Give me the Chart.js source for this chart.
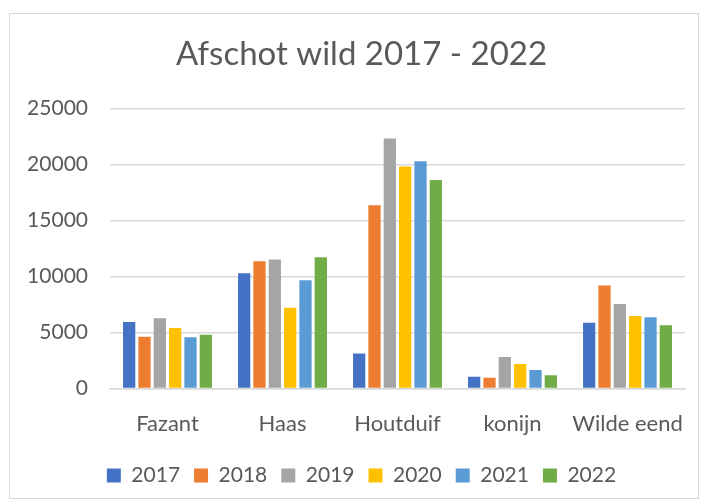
<!DOCTYPE html>
<html>
<head>
<meta charset="utf-8">
<script src="https://cdn.jsdelivr.net/npm/chart.js@4.4.0/dist/chart.umd.min.js"></script>
<style>
  body { margin: 0; background: #fff; }
  #wrap { position: relative; width: 705px; height: 502px; }
  #frame { position: absolute; left: 9px; top: 13px; width: 690px; height: 486px; border: 1px solid #d9d9d9; box-sizing: border-box; }
  canvas { position: absolute; left: 0; top: 0; }
</style>
</head>
<body>
<div id="wrap">
  <div id="frame"></div>
  <canvas id="grafiek" width="705" height="502"></canvas>
</div>
<script>
var soorten = ['Fazant', 'Haas', 'Houtduif', 'konijn', 'Wilde eend'];
var jaren = ['2017', '2018', '2019', '2020', '2021', '2022'];
var kleuren = ['#4472C4', '#ED7D31', '#A5A5A5', '#FFC000', '#5B9BD5', '#70AD47'];
// afschot per jaar, volgorde zoals soorten
var afschot2017 = [5950, 10300, 3130, 1050, 5890];
var afschot2018 = [4640, 11380, 16380, 960, 9200];
var afschot2019 = [6290, 11520, 22320, 2830, 7560];
var afschot2020 = [5420, 7210, 19820, 2200, 6490];
var afschot2021 = [4590, 9680, 20300, 1670, 6380];
var afschot2022 = [4800, 11730, 18630, 1200, 5660];
var yTicks = [0, 5000, 10000, 15000, 20000, 25000];

var reeksen = [afschot2017, afschot2018, afschot2019, afschot2020, afschot2021, afschot2022];
var datasets = [];
for (let i = 0; i < jaren.length; i++) {
    datasets.push({
        label: jaren[i],
        data: reeksen[i],
        backgroundColor: kleuren[i],
        borderWidth: 0,
        categoryPercentage: 0.8,
        barPercentage: 0.8
    });
}

// y-labels mogen buiten de smalle as-box vallen (anders worden ze afgeknipt)
var yLabelRuimte = {
    id: 'yLabelRuimte',
    afterLayout: function (chart) { chart.scales.y.left = 0; }
};

var fontFam = 'Lato, "Liberation Sans", sans-serif';
var ctx = document.getElementById('grafiek');
var grafiek = new Chart(ctx, {
    type: 'bar',
    data: { labels: soorten, datasets: datasets },
    plugins: [yLabelRuimte],
    options: {
        responsive: false,
        animation: false,
        devicePixelRatio: 1,
        layout: { padding: { left: 38, right: 20, top: 35, bottom: 6 } },
        plugins: {
            title: {
                display: true,
                text: 'Afschot wild 2017 - 2022',
                color: '#595959',
                font: { family: fontFam, size: 33, weight: 'normal' },
                padding: { top: 0, bottom: 34 }
            },
            legend: {
                position: 'bottom',
                labels: {
                    color: '#595959',
                    font: { family: fontFam, size: 21 },
                    boxWidth: 14,
                    boxHeight: 14,
                    padding: 14
                }
            },
            tooltip: { enabled: false }
        },
        scales: {
            x: {
                grid: { display: false },
                border: { display: true, color: '#d9d9d9', width: 1.5 },
                ticks: {
                    color: '#595959',
                    font: { family: fontFam, size: 22 },
                    padding: 14,
                    maxRotation: 0,
                    minRotation: 0,
                    autoSkip: false
                }
            },
            y: {
                min: 0,
                max: 25000,
                afterBuildTicks: function (ax) { ax.ticks = yTicks.map(function (v) { return { value: v }; }); },
                afterFit: function (ax) { ax.width = 72; },
                grid: { color: '#d9d9d9', lineWidth: 1.5, drawTicks: false },
                border: { display: false },
                ticks: {
                    color: '#595959',
                    font: { family: fontFam, size: 21 },
                    padding: 22,
                    callback: function (v) { return String(v); }
                }
            }
        }
    }
});
</script>
</body>
</html>
